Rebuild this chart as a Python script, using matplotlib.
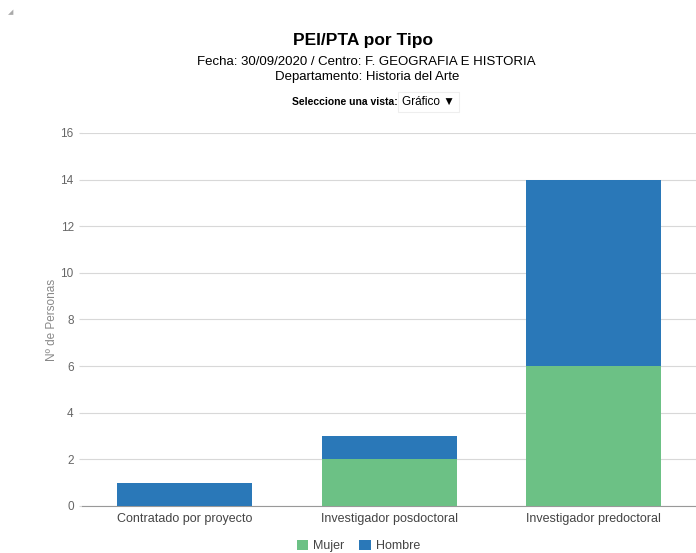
import numpy as np
import matplotlib.pyplot as plt

# Datos
categorias = ['Contratado por proyecto', 'Investigador posdoctoral', 'Investigador predoctoral']
mujer = [0, 2, 6]
hombre = [1, 1, 8]
yticks = [0, 2, 4, 6, 8, 10, 12, 14, 16]

verde = '#6cc185'
azul = '#2a78b8'

plt.rcParams['font.family'] = ['Liberation Sans', 'DejaVu Sans']

fig = plt.figure(figsize=(6.96, 5.53), dpi=100)
ax = fig.add_axes([0.118, 0.085, 0.882, 0.6745])

x = np.arange(len(categorias))
ax.bar(x, mujer, width=0.66, color=verde, label='Mujer', zorder=3)
ax.bar(x, hombre, width=0.66, bottom=mujer, color=azul, label='Hombre', zorder=3)

ax.set_xlim(-0.5, 2.5)
ax.set_ylim(0, 16)
ax.set_yticks(yticks)
ax.set_xticks(x)
ax.set_xticklabels(categorias, fontsize=9, color='#444444')
ax.tick_params(axis='y', labelsize=8.5, labelcolor='#666666', length=2, color='#d8d8d8', pad=4)
ax.tick_params(axis='x', length=0, pad=5)
ax.grid(axis='y', color='#d8d8d8', linewidth=0.8, zorder=0)
for s in ['top', 'right', 'left']:
    ax.spines[s].set_visible(False)
ax.spines['bottom'].set_color('#999999')
ax.set_ylabel('Nº de Personas', fontsize=8.5, color='#888888', labelpad=2)

# Leyenda
ax.legend(loc='upper center', bbox_to_anchor=(0.45, -0.06), ncol=2, frameon=False,
          fontsize=9, handlelength=0.9, handleheight=0.9, columnspacing=1.2,
          handletextpad=0.4, labelcolor='#444444')

# Títulos
fig.text(0.522, 0.918, 'PEI/PTA por Tipo', ha='center', fontsize=12.5, fontweight='bold')
fig.text(0.527, 0.883, 'Fecha: 30/09/2020 / Centro: F. GEOGRAFIA E HISTORIA', ha='center', fontsize=9.5)
fig.text(0.527, 0.856, 'Departamento: Historia del Arte', ha='center', fontsize=9.5)
fig.text(0.572, 0.810, 'Seleccione una vista:', ha='right', fontsize=7.5, fontweight='bold')
fig.text(0.578, 0.810, 'Gráfico ▼', ha='left', fontsize=8.5,
         bbox=dict(boxstyle='square,pad=0.35', fc='white', ec='#eeeeee', lw=0.8))
fig.text(0.012, 0.975, '◢', fontsize=5, color='#aaaaaa')

fig.savefig('out.png', dpi=100)
